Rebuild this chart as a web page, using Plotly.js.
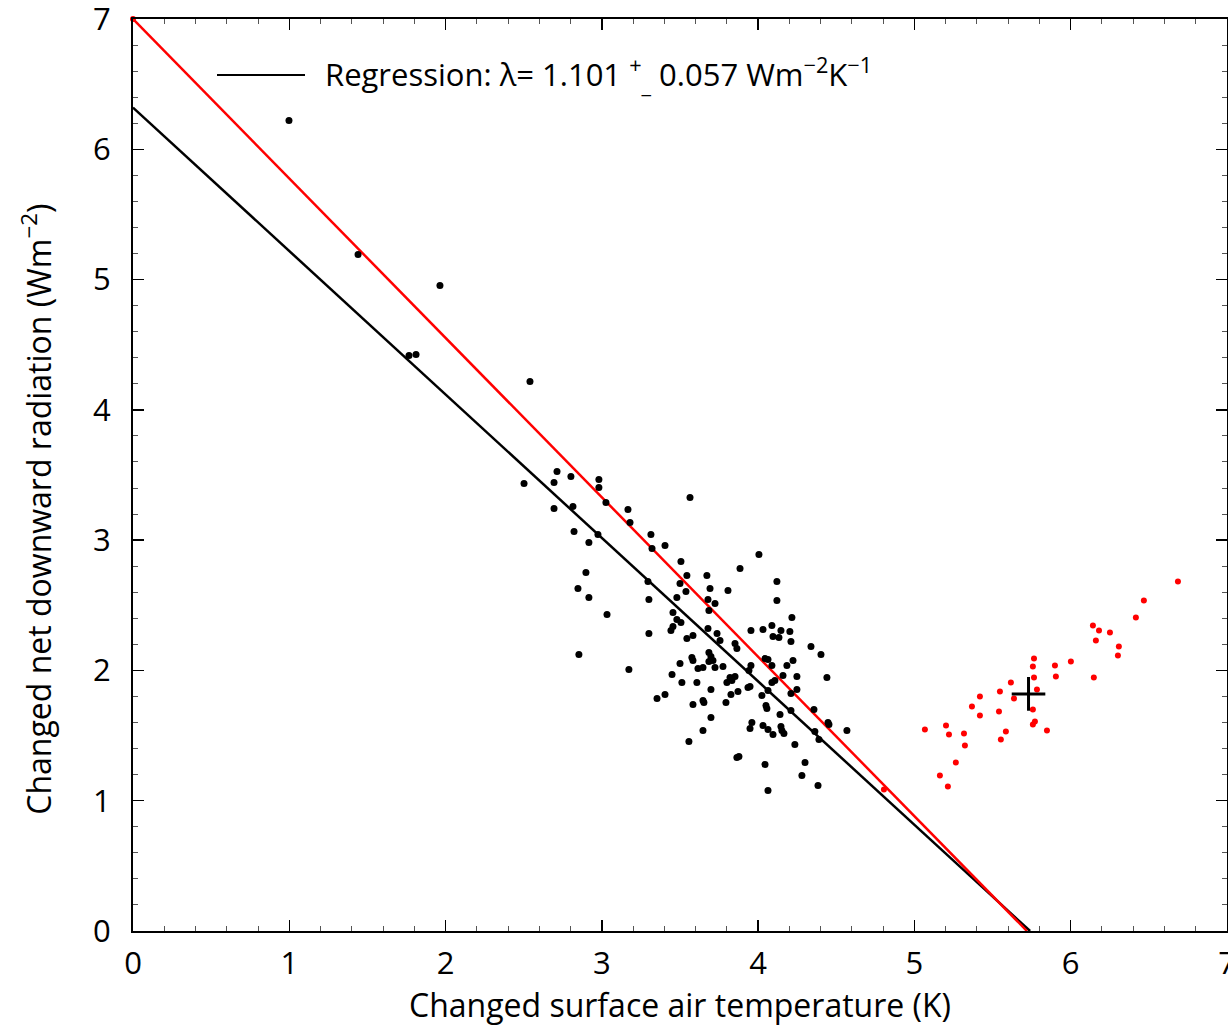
<!DOCTYPE html>
<html>
<head>
<meta charset="utf-8">
<script src="https://cdn.plot.ly/plotly-3.0.1.min.js"></script>
<style>html,body{margin:0;padding:0;background:#fff;}#chart{width:1228px;height:1026px;}</style>
</head>
<body>
<div id="chart"></div>
<script>
// Black points (model ensemble)
const blackX = [0.998,1.440,1.964,1.766,1.811,2.540,2.502,2.713,2.694,2.802,2.981,2.981,3.026,2.694,2.815,3.167,3.180,2.822,2.975,2.917,3.314,3.321,3.404,2.898,2.847,2.917,3.295,3.301,3.033,3.301,2.853,3.173,3.564,4.005,3.884,3.506,3.544,3.672,3.500,3.538,3.480,3.692,3.807,4.120,3.679,3.724,3.685,4.120,3.455,3.480,3.506,3.455,3.442,4.216,3.583,3.544,3.679,3.737,3.756,3.954,4.031,4.088,4.146,4.203,4.095,4.133,4.210,3.852,3.864,3.685,3.698,3.711,3.685,3.576,3.583,3.500,3.647,3.615,3.724,3.775,3.954,4.044,4.063,4.088,4.184,4.223,3.449,3.608,3.512,3.820,3.852,3.800,3.832,3.948,4.088,4.107,4.159,4.248,4.248,3.826,3.871,4.024,4.063,4.210,3.404,3.353,3.653,3.583,3.794,4.050,4.056,4.140,3.698,4.210,4.338,4.402,4.440,4.357,4.447,4.453,4.568,4.363,4.389,4.235,4.300,4.280,4.383,4.044,4.063,3.877,3.864,3.557,3.647,3.960,3.948,4.031,4.063,4.095,4.146,4.152,4.165,3.941,3.935,3.647,3.698];
const blackY = [6.220,5.192,4.954,4.417,4.425,4.217,3.435,3.527,3.442,3.488,3.465,3.404,3.289,3.243,3.258,3.235,3.135,3.066,3.043,2.982,3.043,2.936,2.959,2.751,2.629,2.560,2.682,2.544,2.429,2.283,2.122,2.007,3.327,2.890,2.782,2.836,2.728,2.728,2.667,2.606,2.560,2.629,2.613,2.682,2.544,2.514,2.460,2.537,2.444,2.391,2.368,2.337,2.306,2.406,2.268,2.245,2.322,2.283,2.230,2.306,2.314,2.345,2.306,2.299,2.260,2.253,2.222,2.207,2.168,2.137,2.107,2.076,2.068,2.099,2.076,2.053,2.022,2.015,2.022,2.030,2.038,2.091,2.084,2.038,2.038,2.076,1.969,1.907,1.907,1.946,1.953,1.907,1.923,1.876,1.907,1.923,1.961,1.953,1.853,1.815,1.838,1.807,1.846,1.823,1.815,1.784,1.754,1.738,1.754,1.731,1.708,1.662,1.639,1.692,2.184,2.122,1.946,1.700,1.600,1.585,1.539,1.531,1.470,1.431,1.293,1.193,1.117,1.278,1.078,1.339,1.331,1.454,1.539,1.600,1.554,1.577,1.546,1.508,1.569,1.539,1.516,1.999,1.869,1.769,1.853];

// Red points
const redX = [0.000,6.686,6.468,6.417,6.142,6.181,6.251,6.161,6.308,6.302,5.765,5.758,5.899,6.001,5.765,5.905,6.148,5.617,5.784,5.547,5.419,5.637,5.368,5.758,5.541,5.419,5.771,5.758,5.848,5.067,5.202,5.221,5.317,5.323,5.585,5.553,5.265,5.163,5.214,4.805];
const redY = [7.000,2.682,2.537,2.406,2.345,2.306,2.291,2.230,2.184,2.114,2.091,2.030,2.038,2.068,1.946,1.953,1.946,1.907,1.853,1.838,1.800,1.784,1.723,1.700,1.685,1.654,1.608,1.585,1.539,1.546,1.577,1.508,1.516,1.424,1.531,1.470,1.293,1.193,1.109,1.086];

// Regression lines
const regBlackX = [0, 5.74];
const regBlackY = [6.32, 0];
const regRedX = [0, 5.72];
const regRedY = [7.0, 0];

// Mean marker
const meanX = [5.73];
const meanY = [1.82];

const xTicks = [0,1,2,3,4,5,6,7];
const yTicks = [0,1,2,3,4,5,6,7];

const FONT = 'Open Sans, Noto Sans, sans-serif';

const traces = [
  {x: regBlackX, y: regBlackY, mode: 'lines', line: {color: '#000', width: 2.5}, hoverinfo: 'skip', showlegend: false},
  {x: regRedX, y: regRedY, mode: 'lines', line: {color: '#ff0000', width: 2.5}, hoverinfo: 'skip', showlegend: false},
  {x: blackX, y: blackY, mode: 'markers', marker: {color: '#000', size: 7}, showlegend: false},
  {x: redX, y: redY, mode: 'markers', marker: {color: '#ff0000', size: 6}, showlegend: false, cliponaxis: false},
  {x: meanX, y: meanY, mode: 'markers', marker: {symbol: 'cross-thin', size: 24, line: {color: '#000', width: 3}}, showlegend: false}
];

const axisCommon = {
  showgrid: false, zeroline: false, showline: true, linecolor: '#000', linewidth: 2,
  ticks: 'inside', ticklen: 11, tickwidth: 1.5, tickcolor: '#000', mirror: 'allticks',
  ticklabeloverflow: 'allow',
  tickfont: {family: FONT, size: 31, color: '#000'},
  minor: {dtick: 0.2, ticks: 'inside', ticklen: 5, tickwidth: 1, tickcolor: '#555'}
};

const layout = {
  width: 1228, height: 1026,
  margin: {l: 133, r: 1, t: 19, b: 95},
  paper_bgcolor: '#fff', plot_bgcolor: '#fff',
  font: {family: FONT, color: '#000'},
  xaxis: Object.assign({}, axisCommon, {
    range: [0, 7], tickvals: xTicks, ticktext: xTicks.map(String),
    ticklabelstandoff: 4,
    title: {text: 'Changed surface air temperature (K)', font: {family: FONT, size: 32, color: '#000'}, standoff: 6}
  }),
  yaxis: Object.assign({}, axisCommon, {
    range: [0, 7], tickvals: yTicks, ticktext: yTicks.map(String),
    ticklabelstandoff: 14
  }),
  shapes: [
    {type: 'line', xref: 'paper', yref: 'paper', x0: (217-133)/1094, x1: (305-133)/1094, y0: (931.5-75)/912.5, y1: (931.5-75)/912.5, line: {color: '#000', width: 2}}
  ],
  annotations: [
    {xref: 'paper', yref: 'paper', x: (323-133)/1094, y: (931.5-75)/912.5, xanchor: 'left', yanchor: 'middle', showarrow: false,
     text: 'Regression: λ= 1.101 <sup>+</sup><sub>_</sub> 0.057 Wm<sup>−2</sup>K<sup>−1</sup>',
     font: {family: FONT, size: 31, color: '#000'}},
    {xref: 'paper', yref: 'paper', x: (36-133)/1094, y: (931.5-510)/912.5, xanchor: 'center', yanchor: 'middle', showarrow: false,
     textangle: -90,
     text: 'Changed net downward radiation (Wm<sup>−2</sup>)',
     font: {family: FONT, size: 32, color: '#000'}}
  ]
};

Plotly.newPlot('chart', traces, layout, {staticPlot: true});
</script>
</body>
</html>
